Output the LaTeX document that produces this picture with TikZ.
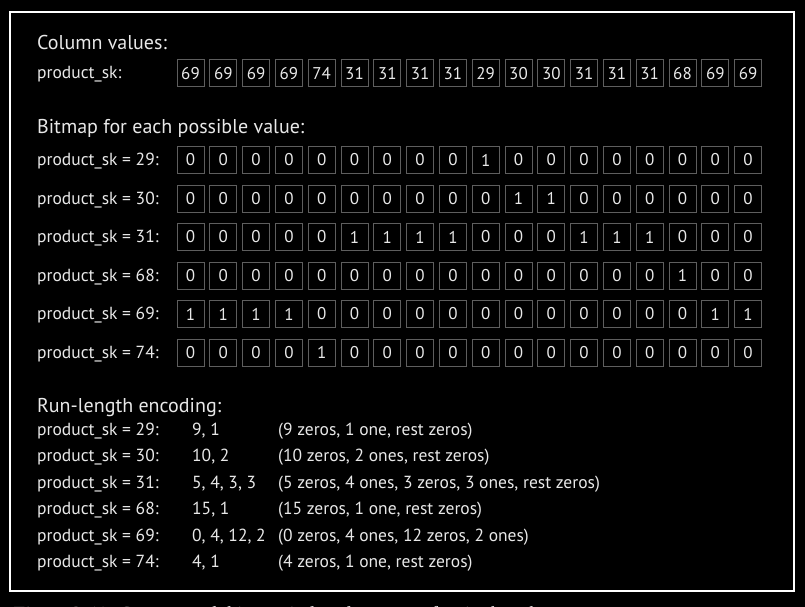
\documentclass[tikz,border=0pt]{standalone}
\usepackage{fontspec}
\setmainfont{PT Sans}
\newfontfamily\capfont{Liberation Serif}
\definecolor{txt}{HTML}{E8E8E8}
\definecolor{boxline}{HTML}{5E5E5E}
\begin{document}
\begin{tikzpicture}[x=1pt,y=-1pt,
  cell/.style={draw=boxline,line width=1pt,minimum width=27pt,minimum height=27pt,inner sep=0pt,text=txt,font=\fontsize{17}{17}\selectfont},
  head/.style={anchor=base west,inner sep=0pt,text=txt,font=\fontsize{20}{20}\selectfont},
  lab/.style={anchor=base west,inner sep=0pt,text=txt,font=\fontsize{17.5}{17.5}\selectfont}]
\fill[black] (0,0) rectangle (805,607);
\useasboundingbox (0,0) rectangle (805,607);
\begin{scope}
\clip (0,0) rectangle (805,607);
\node[anchor=base west,inner sep=0pt,text=txt,font=\capfont\itshape\fontsize{20}{20}\selectfont] (cap) at (12,620) {Figure 3-11. Compressed, bitmap-indexed storage of a single column.};
\end{scope}
\draw[white,line width=1.3pt] (10,12) rectangle (794,591);
% column values
\node[head] (h1) at (37,50) {Column values:};
\node[lab] (l0) at (37,79) {product\_sk:};
\foreach \v [count=\i from 0] in {69,69,69,69,74,31,31,31,31,29,30,30,31,31,31,68,69,69}
  \node[cell] (c0-\i) at (190.5+32.8*\i,73.5) {\v};
% bitmaps
\node[head] (h2) at (37,133) {Bitmap for each possible value:};
\foreach \val/\bits [count=\r from 0] in {
  29/{0,0,0,0,0,0,0,0,0,1,0,0,0,0,0,0,0,0},
  30/{0,0,0,0,0,0,0,0,0,0,1,1,0,0,0,0,0,0},
  31/{0,0,0,0,0,1,1,1,1,0,0,0,1,1,1,0,0,0},
  68/{0,0,0,0,0,0,0,0,0,0,0,0,0,0,0,1,0,0},
  69/{1,1,1,1,0,0,0,0,0,0,0,0,0,0,0,0,1,1},
  74/{0,0,0,0,1,0,0,0,0,0,0,0,0,0,0,0,0,0}} {
  \node[lab] (bl-\r) at (37,165.5+38.5*\r) {product\_sk = \val:};
  \foreach \b [count=\i from 0] in \bits
    \node[cell] (b\r-\i) at (190.5+32.8*\i,160+38.5*\r) {\b};
}
% run-length
\node[head] (h3) at (37,412) {Run-length encoding:};
\foreach \val/\code/\desc [count=\r from 0] in {
  29/{9, 1}/{(9 zeros, 1 one, rest zeros)},
  30/{10, 2}/{(10 zeros, 2 ones, rest zeros)},
  31/{5, 4, 3, 3}/{(5 zeros, 4 ones, 3 zeros, 3 ones, rest zeros)},
  68/{15, 1}/{(15 zeros, 1 one, rest zeros)},
  69/{0, 4, 12, 2}/{(0 zeros, 4 ones, 12 zeros, 2 ones)},
  74/{4, 1}/{(4 zeros, 1 one, rest zeros)}} {
  \node[lab] (rl-\r) at (37,435+26.5*\r) {product\_sk = \val:};
  \node[lab] (rc-\r) at (192,435+26.5*\r) {\code};
  \node[lab] (rd-\r) at (278,435+26.5*\r) {\desc};
}
\end{tikzpicture}
\end{document}
